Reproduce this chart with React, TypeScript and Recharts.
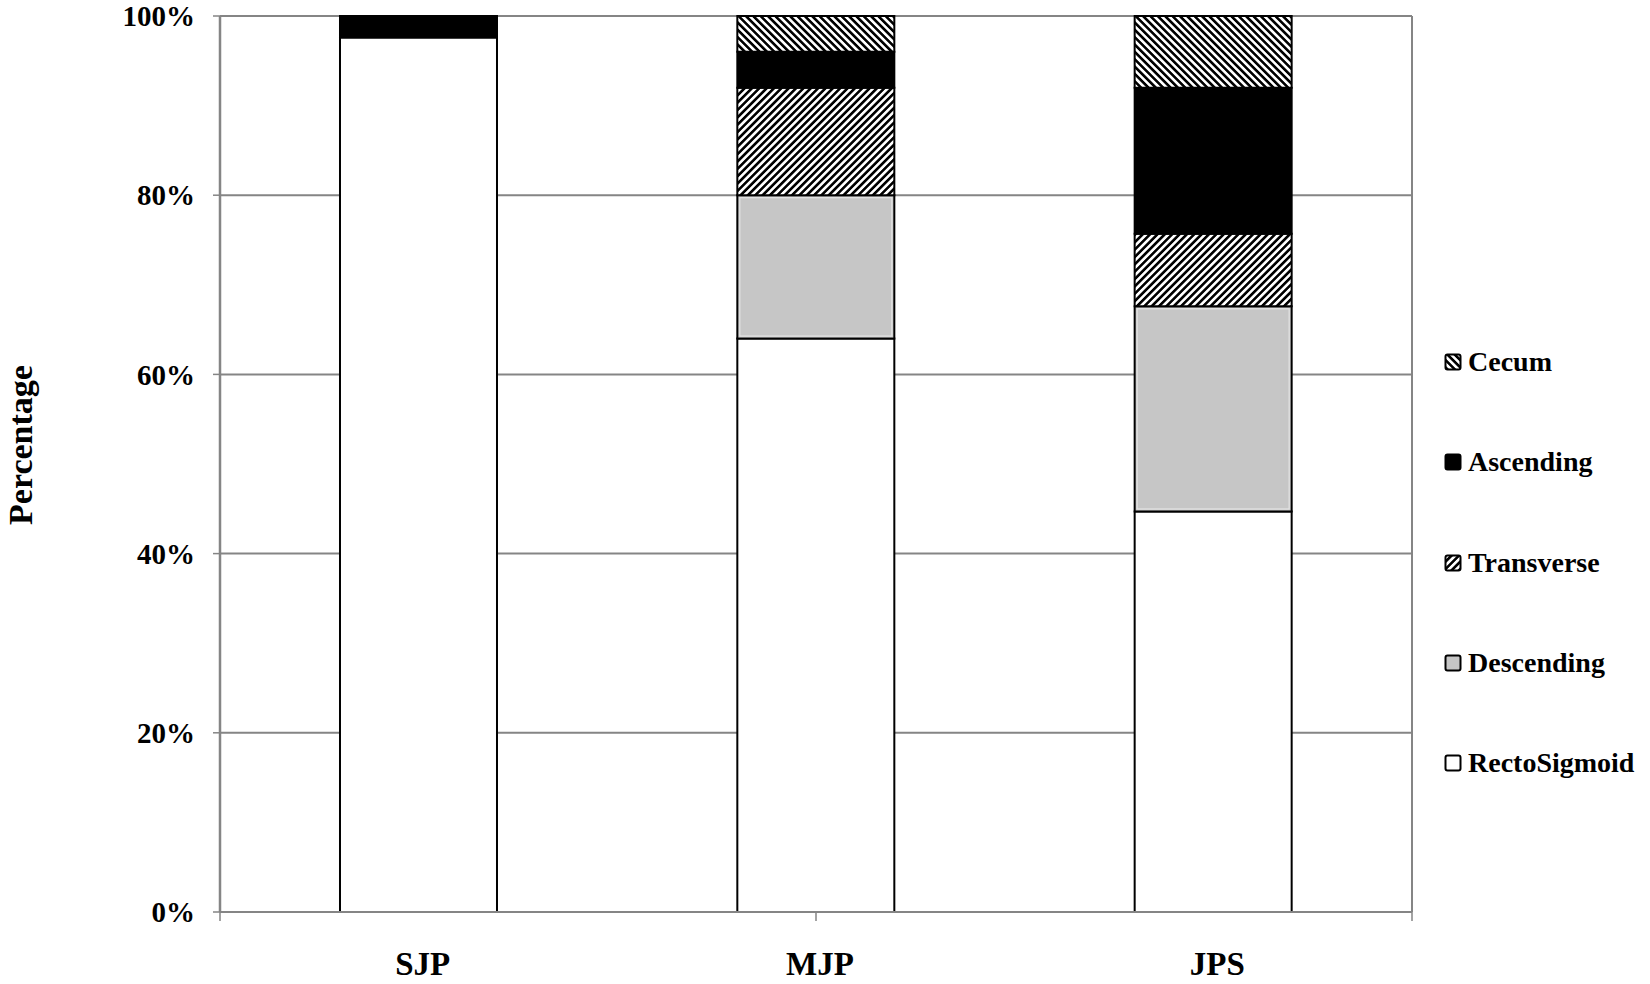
import React from 'react';
import { BarChart, Bar, XAxis, YAxis, CartesianGrid, Label } from 'recharts';

const categories = ['SJP', 'MJP', 'JPS'];
const rectoSigmoid = [97.6, 64, 44.7];
const descending = [0, 16, 22.9];
const transverse = [0, 12, 8.1];
const ascending = [2.4, 4, 16.3];
const cecum = [0, 4, 8];
const yTicks = [0, 20, 40, 60, 80, 100];
const xBoundaryTicks = [0, 1, 2, 3];

const data = categories.map((name, i) => ({
  name,
  RectoSigmoid: rectoSigmoid[i],
  Descending: descending[i],
  Transverse: transverse[i],
  Ascending: ascending[i],
  Cecum: cecum[i],
}));

const FONT = '"Liberation Serif", "Times New Roman", serif';
const GRID = '#858585';

const legendItems = [
  { name: 'Cecum', fill: 'url(#lg-cecum)' },
  { name: 'Ascending', fill: '#000000' },
  { name: 'Transverse', fill: 'url(#lg-trans)' },
  { name: 'Descending', fill: '#c6c6c6' },
  { name: 'RectoSigmoid', fill: '#ffffff' },
];

const Patterns = ({ prefix }: { prefix: string }) => (
  <defs>
    <pattern id={`${prefix}-cecum`} patternUnits="userSpaceOnUse" width="5.2" height="5.2" patternTransform="rotate(-45)">
      <rect x="0" y="0" width="5.2" height="5.2" fill="#ffffff" />
      <rect x="0" y="0" width="2.6" height="5.2" fill="#000000" />
    </pattern>
    <pattern id={`${prefix}-trans`} patternUnits="userSpaceOnUse" width="5.2" height="5.2" patternTransform="rotate(45)">
      <rect x="0" y="0" width="5.2" height="5.2" fill="#ffffff" />
      <rect x="0" y="0" width="2.6" height="5.2" fill="#000000" />
    </pattern>
  </defs>
);

const EmptyTick = () => <g />;

const CatTick = (props: any) => {
  const { x, y, payload } = props;
  return (
    <text x={x + 4} y={y + 62} textAnchor="middle" fontFamily={FONT} fontWeight="bold" fontSize={33} fill="#000">
      {payload.value}
    </text>
  );
};

const YLabel = (props: any) => {
  const vb = props.viewBox || { x: 0, y: 16, width: 220, height: 896 };
  const cx = vb.x + 20;
  const cy = vb.y + vb.height / 2 - 19;
  return (
    <text
      x={cx}
      y={cy}
      transform={`rotate(-90 ${cx} ${cy})`}
      textAnchor="middle"
      dominantBaseline="central"
      fontFamily={FONT}
      fontWeight="bold"
      fontSize={34}
      fill="#000"
    >
      Percentage
    </text>
  );
};

const DescShape = (props: any) => {
  const { x, y, width, height } = props;
  if (!height || height <= 0) return null;
  return (
    <g>
      <rect x={x} y={y} width={width} height={height} fill="#c6c6c6" stroke="#000" strokeWidth={2} />
      <rect x={x + 2.5} y={y + 2.5} width={Math.max(0, width - 5)} height={Math.max(0, height - 5)} fill="none" stroke="#e4e4e4" strokeWidth={1.2} />
    </g>
  );
};

export default function App() {
  return (
    <div style={{ position: 'absolute', left: 0, top: 0, width: 1650, height: 984, background: '#fff' }}>
      <BarChart
        width={1650}
        height={984}
        data={data}
        margin={{ top: 16, right: 237, bottom: 0, left: 0 }}
        barCategoryGap="30.2%"
      >
        <Patterns prefix="bp" />
        <CartesianGrid xAxisId="cat" yAxisId="left" vertical={false} stroke={GRID} strokeWidth={2} />
        <XAxis
          xAxisId="cat"
          dataKey="name"
          type="category"
          height={71}
          axisLine={false}
          tickLine={false}
          tickSize={0}
          tickMargin={0}
          tick={<CatTick />}
          interval={0}
        />
        <XAxis
          xAxisId="a_grid"
          type="number"
          domain={[0, 3]}
          ticks={xBoundaryTicks}
          tick={EmptyTick}
          tickSize={9}
          height={1}
          axisLine={{ stroke: GRID, strokeWidth: 2 }}
          tickLine={{ stroke: GRID, strokeWidth: 1.5 }}
          interval={0}
          allowDataOverflow
        />
        <YAxis
          yAxisId="left"
          domain={[0, 100]}
          ticks={yTicks}
          width={220}
          tickFormatter={(v: number) => `${v}%`}
          tick={{ fontFamily: FONT, fontWeight: 'bold', fontSize: 29, fill: '#000' }}
          tickSize={7}
          tickMargin={18}
          axisLine={{ stroke: GRID, strokeWidth: 2.5 }}
          tickLine={{ stroke: GRID, strokeWidth: 1.5 }}
          interval={0}
        >
          <Label content={<YLabel />} />
        </YAxis>
        <YAxis
          yAxisId="right"
          orientation="right"
          domain={[0, 100]}
          width={1}
          tick={EmptyTick}
          tickLine={false}
          axisLine={{ stroke: GRID, strokeWidth: 2 }}
        />
        <Bar xAxisId="cat" yAxisId="left" dataKey="RectoSigmoid" stackId="a" fill="#ffffff" stroke="#000" strokeWidth={2} isAnimationActive={false} />
        <Bar xAxisId="cat" yAxisId="left" dataKey="Descending" stackId="a" fill="#c6c6c6" stroke="#000" strokeWidth={2} shape={<DescShape />} isAnimationActive={false} />
        <Bar xAxisId="cat" yAxisId="left" dataKey="Transverse" stackId="a" fill="url(#bp-trans)" stroke="#000" strokeWidth={2} isAnimationActive={false} />
        <Bar xAxisId="cat" yAxisId="left" dataKey="Ascending" stackId="a" fill="#000000" stroke="#000" strokeWidth={2} isAnimationActive={false} />
        <Bar xAxisId="cat" yAxisId="left" dataKey="Cecum" stackId="a" fill="url(#bp-cecum)" stroke="#000" strokeWidth={2} isAnimationActive={false} />
      </BarChart>
      <div style={{ position: 'absolute', left: 1444, top: 0, width: 206 }}>
        <svg width={0} height={0} style={{ position: 'absolute' }}>
          <Patterns prefix="lg" />
        </svg>
        {legendItems.map((item, i) => (
          <div
            key={item.name}
            style={{
              position: 'absolute',
              left: 0,
              top: 362 + i * 100.3 - 20,
              height: 40,
              display: 'flex',
              alignItems: 'center',
              whiteSpace: 'nowrap',
            }}
          >
            <svg width={18} height={18} style={{ marginRight: 6 }}>
              <rect x={1.5} y={1.5} width={15} height={15} rx={2} fill={item.fill} stroke="#000" strokeWidth={2} />
            </svg>
            <span style={{ fontFamily: FONT, fontWeight: 'bold', fontSize: 28, color: '#000', lineHeight: '40px' }}>
              {item.name}
            </span>
          </div>
        ))}
      </div>
    </div>
  );
}
